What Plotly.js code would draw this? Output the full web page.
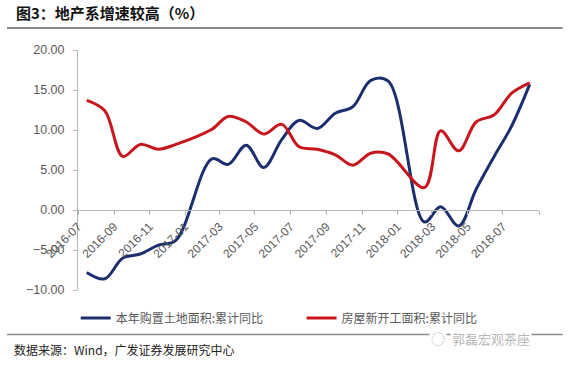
<!DOCTYPE html>
<html>
<head>
<meta charset="utf-8">
<script src="https://cdn.plot.ly/plotly-3.0.1.min.js"></script>
<style>
html,body{margin:0;padding:0;background:#fff;}
#chart{width:571px;height:365px;}
</style>
</head>
<body>
<div id="chart"></div>
<script>
// Months with data (January is reported together with February)
const months = ['2016-07','2016-08','2016-09','2016-10','2016-11','2016-12',
  '2017-02','2017-03','2017-04','2017-05','2017-06','2017-07','2017-08','2017-09','2017-10','2017-11','2017-12',
  '2018-02','2018-03','2018-04','2018-05','2018-06','2018-07','2018-08'];
// 本年购置土地面积:累计同比 (%)
const landArea = [-7.8, -8.6, -6.0, -5.5, -4.4, -3.8,
  6.4, 5.7, 8.1, 5.3, 8.8, 11.2, 10.2, 12.1, 12.9, 16.2, 16.1,
  -1.5, 0.4, -2.0, 2.6, 6.7, 10.5, 15.7];
// 房屋新开工面积:累计同比 (%)
const newStarts = [13.7, 12.4, 6.7, 8.2, 7.6, 8.2,
  10.1, 11.7, 11.0, 9.5, 10.7, 7.9, 7.6, 6.9, 5.6, 7.1, 7.0,
  2.8, 9.9, 7.4, 11.0, 11.9, 14.6, 15.9];
const seriesNames = ['本年购置土地面积:累计同比', '房屋新开工面积:累计同比'];
const tickDates = ['2016-07-01','2016-09-01','2016-11-01','2017-01-01','2017-03-01','2017-05-01',
  '2017-07-01','2017-09-01','2017-11-01','2018-01-01','2018-03-01','2018-05-01','2018-07-01','2018-09-01'];
const tickLabels = ['2016-07','2016-09','2016-11','2017-01','2017-03','2017-05',
  '2017-07','2017-09','2017-11','2018-01','2018-03','2018-05','2018-07',''];
const yRange = [-10, 20];
const xRange = ['2016-07-01', '2018-09-01'];

// Excel date axis places each monthly point in the middle of its month
const xMid = months.map(m => m + '-16');

const cjk = '"Noto Sans CJK SC", "Liberation Sans", Arial, sans-serif';
const latin = '"Liberation Sans", Arial, sans-serif';

const traces = [
  {x: xMid, y: landArea, name: seriesNames[0], type: 'scatter', mode: 'lines',
   line: {color: '#1B2F6E', width: 3, shape: 'spline', smoothing: 1}, legend: 'legend'},
  {x: xMid, y: newStarts, name: seriesNames[1], type: 'scatter', mode: 'lines',
   line: {color: '#C8161D', width: 3, shape: 'spline', smoothing: 1}, legend: 'legend2'}
];

const legendCommon = {orientation: 'h', yanchor: 'middle', xanchor: 'left',
  font: {family: cjk, size: 12, color: '#595959'}, bgcolor: 'rgba(0,0,0,0)', borderwidth: 0};

const layout = {
  width: 571, height: 365,
  margin: {l: 78, r: 32, t: 50, b: 75, pad: 0},
  paper_bgcolor: '#ffffff', plot_bgcolor: '#ffffff',
  title: {text: '图3：地产系增速较高（%）', x: 16/571, xanchor: 'left', xref: 'container',
          y: 1 - 14/365, yanchor: 'middle', yref: 'container',
          font: {family: cjk, size: 15, color: '#111111', weight: 'bold'}},
  xaxis: {type: 'date', range: xRange, anchor: 'free',
          position: (0 - yRange[0]) / (yRange[1] - yRange[0]),
          tickmode: 'array', tickvals: tickDates, ticktext: tickLabels, tickangle: -45,
          ticks: 'outside', ticklen: 4, tickcolor: '#b5b5b5', tickwidth: 1,
          showline: true, linecolor: '#b5b5b5', linewidth: 1, showgrid: false, zeroline: false,
          tickfont: {family: latin, size: 12, color: '#595959'}},
  yaxis: {range: yRange, dtick: 5, tick0: -10, tickformat: '.2f',
          ticks: 'outside', ticklen: 4, tickcolor: '#b5b5b5', tickwidth: 1, ticklabelstandoff: 6,
          showline: true, linecolor: '#b5b5b5', linewidth: 1, showgrid: false, zeroline: false,
          tickfont: {family: latin, size: 12.5, color: '#595959'}},
  showlegend: true,
  legend: Object.assign({x: -0.005, y: -0.117}, legendCommon),
  legend2: Object.assign({x: 0.485, y: -0.117}, legendCommon),
  shapes: [
    {type: 'line', xref: 'paper', yref: 'paper', x0: (7-78)/461.3, x1: (563-78)/461.3,
     y0: (290-28)/240, y1: (290-28)/240, line: {color: '#8a8a8a', width: 2}},
    {type: 'line', xref: 'paper', yref: 'paper', x0: (7-78)/461.3, x1: (563-78)/461.3,
     y0: (290-334.5)/240, y1: (290-334.5)/240, line: {color: '#8a8a8a', width: 1.5}}
  ],
  annotations: [
    {text: '数据来源：Wind，广发证券发展研究中心', xref: 'paper', yref: 'paper',
     x: (12-78)/461.3, y: (290-349)/240, xanchor: 'left', yanchor: 'middle', showarrow: false,
     font: {family: cjk, size: 12, color: '#222222'}},
    {text: '郭磊宏观茶座', xref: 'paper', yref: 'paper',
     x: (450-78)/461.3, y: (290-338)/240, xanchor: 'left', yanchor: 'middle', showarrow: false,
     bgcolor: '#ffffff', font: {family: cjk, size: 13, color: '#b8b8b8'}},
    {text: '◌', xref: 'paper', yref: 'paper',
     x: (438-78)/461.3, y: (290-338)/240, xanchor: 'center', yanchor: 'middle', showarrow: false,
     bgcolor: '#ffffff', font: {family: cjk, size: 14, color: '#b8b8b8'}}
  ]
};

Plotly.newPlot('chart', traces, layout, {displayModeBar: false, staticPlot: true});
</script>
</body>
</html>
